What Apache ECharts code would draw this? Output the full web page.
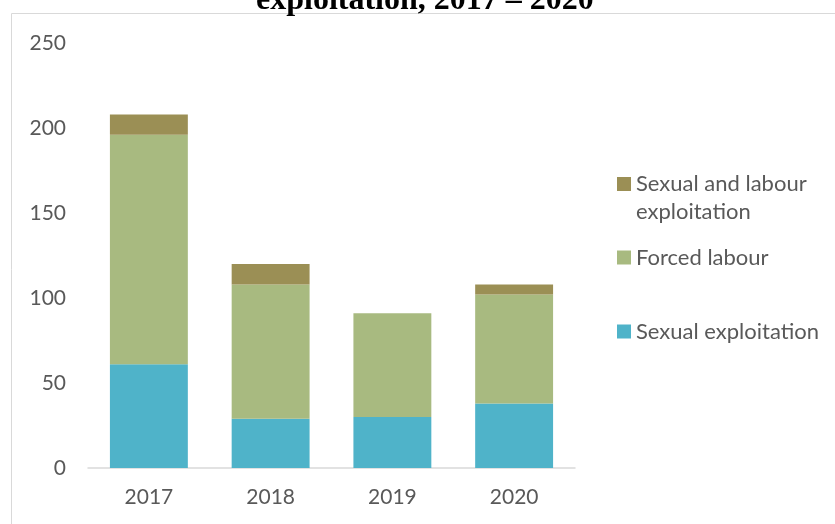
<!DOCTYPE html>
<html>
<head>
<meta charset="utf-8">
<script src="https://cdn.jsdelivr.net/npm/echarts@6/dist/echarts.min.js"></script>
<style>html,body{margin:0;padding:0;background:#fff;}#c{width:835px;height:524px;}</style>
</head>
<body>
<div id="c"></div>
<script>
const categories = ['2017', '2018', '2019', '2020'];
const sexualExploitation = [61, 29, 30, 38];
const forcedLabour = [135, 79, 61, 64];
const sexualAndLabour = [12, 12, 0, 6];
const yTicks = [0, 50, 100, 150, 200, 250];

const FONT = 'Lato';
const TXT = '#595959';
const chart = echarts.init(document.getElementById('c'));
const legendBase = {
  orient: 'vertical', left: 617, itemWidth: 14, itemHeight: 14, itemGap: 0, padding: 0,
  selectedMode: false, icon: 'rect',
  textStyle: { fontFamily: FONT, fontSize: 22, color: TXT, lineHeight: 28 }
};
const SLE = 'Sexual and labour exploitation';
chart.setOption({
  animation: false,
  title: {
    text: 'exploitation, 2017 \u2013 2020', left: 251, top: -20,
    textStyle: { fontFamily: 'Liberation Serif', fontWeight: 'bold', fontSize: 32, color: '#000' }
  },
  graphic: [{
    type: 'rect', shape: { x: 11.5, y: 13.5, width: 900, height: 600 },
    style: { fill: 'none', stroke: '#d9d9d9', lineWidth: 1 }, silent: true
  }],
  legend: [
    Object.assign({}, legendBase, { top: 170, data: [SLE], formatter: () => 'Sexual and labour' }),
    Object.assign({}, legendBase, { top: 198, data: [{ name: SLE, itemStyle: { color: 'rgba(0,0,0,0)', opacity: 0 } }],
      formatter: () => 'exploitation' }),
    Object.assign({}, legendBase, { top: 243.5, data: ['Forced labour'] }),
    Object.assign({}, legendBase, { top: 317.5, data: ['Sexual exploitation'] })
  ],
  grid: { left: 88, right: 260, top: 43, bottom: 56 },
  xAxis: {
    type: 'category', data: categories,
    axisLine: { lineStyle: { color: '#d9d9d9', width: 1.5 } },
    axisTick: { show: false },
    axisLabel: { fontFamily: FONT, fontSize: 21, color: TXT, margin: 19 }
  },
  yAxis: {
    type: 'value', min: yTicks[0], max: yTicks[yTicks.length - 1], interval: 50,
    axisLine: { show: false }, axisTick: { show: false }, splitLine: { show: false },
    axisLabel: { fontFamily: FONT, fontSize: 21, color: TXT, margin: 22 }
  },
  series: [
    { name: 'Sexual exploitation', type: 'bar', stack: 'a', data: sexualExploitation,
      barCategoryGap: '36%', itemStyle: { color: '#4FB3C9' } },
    { name: 'Forced labour', type: 'bar', stack: 'a', data: forcedLabour,
      itemStyle: { color: '#A8BA80' } },
    { name: SLE, type: 'bar', stack: 'a', data: sexualAndLabour,
      itemStyle: { color: '#9B8F55' } }
  ]
});
</script>
</body>
</html>
